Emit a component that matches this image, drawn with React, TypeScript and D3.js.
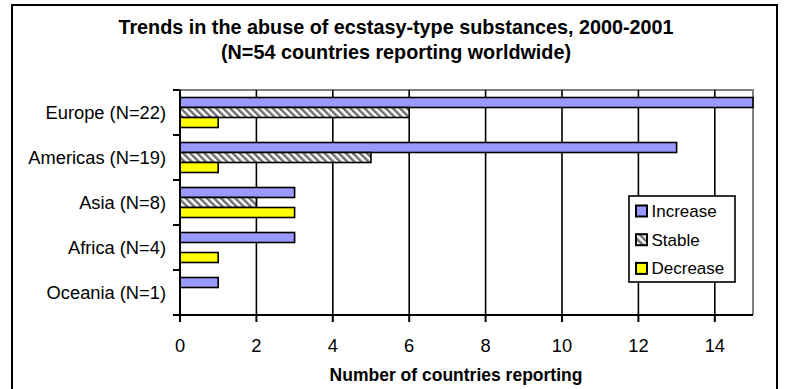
import React from "react";
import * as d3 from "d3";

const categories = ["Europe (N=22)", "Americas (N=19)", "Asia (N=8)", "Africa (N=4)", "Oceania (N=1)"];
const seriesNames = ["Increase", "Stable", "Decrease"];
const increase = [15, 13, 3, 3, 1];
const stable = [6, 5, 2, 0, 0];
const decrease = [1, 1, 3, 1, 0];
const xTicks = [0, 2, 4, 6, 8, 10, 12, 14];
const titleLines = ["Trends in the abuse of ecstasy-type substances, 2000-2001", "(N=54 countries reporting worldwide)"];
const xAxisTitle = "Number of countries reporting";

const W = 786;
const H = 389;
const plot = { left: 180, right: 753, top: 90, bottom: 315 };
const fills: Record<string, string> = { Increase: "#9999FF", Stable: "url(#hatch)", Decrease: "#FFFF00" };
const FONT = "'Liberation Sans', Arial, sans-serif";

export default function App() {
  const x = d3.scaleLinear().domain([0, 15]).range([plot.left, plot.right]);
  const y = d3.scaleBand<string>().domain(categories).range([plot.top, plot.bottom]).padding(0);
  const inner = d3.scaleBand<string>().domain(seriesNames).range([0, y.bandwidth()]).paddingInner(0).paddingOuter(0.75);
  const values: Record<string, number[]> = { Increase: increase, Stable: stable, Decrease: decrease };

  return (
    <svg width={W} height={H} style={{ position: "absolute", left: 0, top: 0, display: "block", background: "#fff" }} fontFamily={FONT}>
      <defs>
        <pattern id="hatch" patternUnits="userSpaceOnUse" width="5" height="5" patternTransform="rotate(-45)">
          <rect width="5" height="5" fill="#fff" />
          <rect width="2.5" height="5" fill="#707070" />
        </pattern>
      </defs>
      <rect x={0} y={0} width={W} height={H} fill="#fff" />
      {/* outer frame */}
      <rect x={12} y={5} width={765} height={400} fill="none" stroke="#000" strokeWidth={2} />
      {/* title */}
      {titleLines.map((t, i) => (
        <text key={i} x={396} y={34 + i * 25} textAnchor="middle" fontWeight="bold" fontSize={19.8} fill="#000">
          {t}
        </text>
      ))}
      {/* plot area top/right border */}
      <path d={`M${plot.left},${plot.top}H${plot.right}V${plot.bottom}`} fill="none" stroke="#808080" strokeWidth={2} />
      {/* gridlines */}
      {xTicks.filter((t) => t > 0).map((t) => (
        <line key={t} x1={x(t)} x2={x(t)} y1={plot.top} y2={plot.bottom} stroke="#000" strokeWidth={1.6} />
      ))}
      {/* bars */}
      {categories.map((c, ci) =>
        seriesNames.map((s) => {
          const v = values[s][ci];
          if (!v) return null;
          return (
            <rect
              key={c + s}
              x={x(0)}
              y={(y(c) as number) + (inner(s) as number)}
              width={x(v) - x(0)}
              height={inner.bandwidth()}
              fill={fills[s]}
              stroke="#000"
              strokeWidth={1.6}
            />
          );
        })
      )}
      {/* y axis */}
      <line x1={plot.left} x2={plot.left} y1={plot.top} y2={plot.bottom} stroke="#000" strokeWidth={2} />
      {categories.map((c, i) => (
        <line key={"yt" + i} x1={plot.left - 7} x2={plot.left} y1={(y(c) as number) + y.bandwidth()} y2={(y(c) as number) + y.bandwidth()} stroke="#000" strokeWidth={2} />
      ))}
      <line x1={plot.left - 7} x2={plot.left} y1={plot.top} y2={plot.top} stroke="#000" strokeWidth={2} />
      {categories.map((c) => (
        <text key={"yl" + c} x={166} y={(y(c) as number) + y.bandwidth() / 2} dy="0.35em" textAnchor="end" fontSize={18.3} fill="#000">
          {c}
        </text>
      ))}
      {/* x axis */}
      <line x1={plot.left - 7} x2={plot.right} y1={plot.bottom} y2={plot.bottom} stroke="#000" strokeWidth={2} />
      {xTicks.map((t) => (
        <g key={"xt" + t}>
          <line x1={x(t)} x2={x(t)} y1={plot.bottom} y2={plot.bottom + 7} stroke="#000" strokeWidth={2} />
          <text x={x(t)} y={352} textAnchor="middle" fontSize={18.3} fill="#000">
            {t}
          </text>
        </g>
      ))}
      <text x={456} y={381} textAnchor="middle" fontWeight="bold" fontSize={17.5} fill="#000">
        {xAxisTitle}
      </text>
      {/* legend */}
      <rect x={629} y={196} width={106} height={86} fill="#fff" stroke="#000" strokeWidth={1.6} />
      {seriesNames.map((s, i) => (
        <g key={"lg" + s} transform={`translate(636, ${211 + i * 28.7})`}>
          <rect x={0} y={-5.5} width={11} height={11} fill={fills[s]} stroke="#000" strokeWidth={2} />
          <text x={15.5} y={0} dy="0.35em" fontSize={17} fill="#000">
            {s}
          </text>
        </g>
      ))}
    </svg>
  );
}
